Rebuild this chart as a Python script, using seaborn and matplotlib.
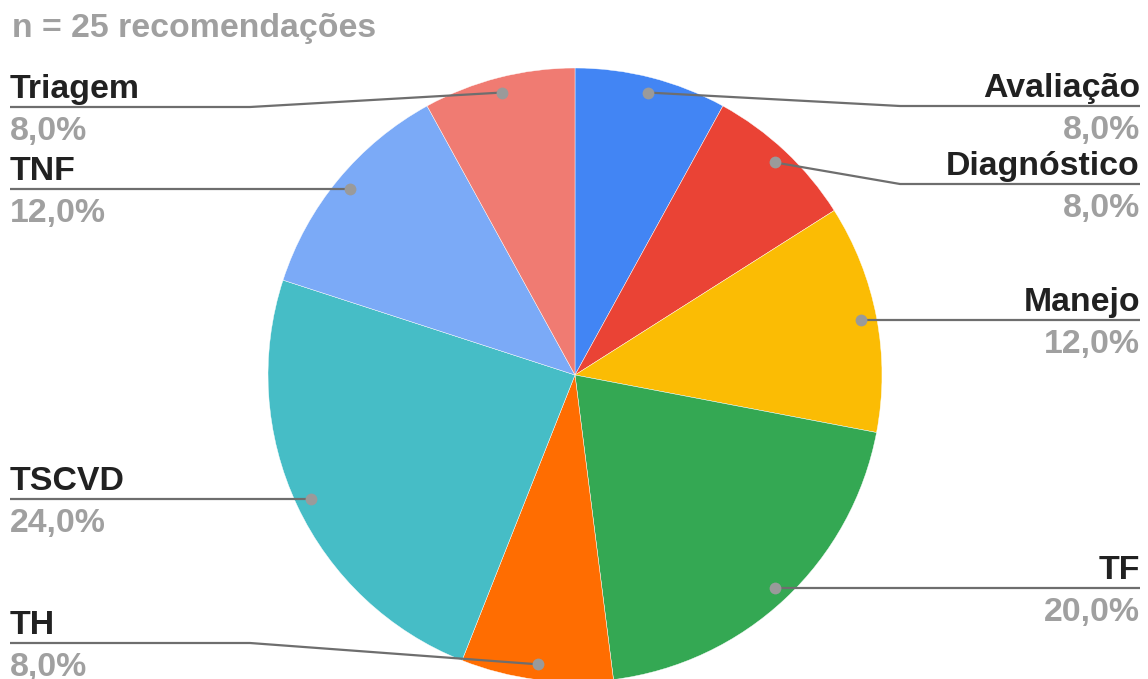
import numpy as np
import matplotlib
matplotlib.use("Agg")
import matplotlib.pyplot as plt
import seaborn as sns

# Data
categories = ["Avaliação", "Diagnóstico", "Manejo", "TF", "TH", "TSCVD", "TNF", "Triagem"]
shares = [8.0, 8.0, 12.0, 20.0, 8.0, 24.0, 12.0, 8.0]
title_text = "n = 25 recomendações"

slice_colors = ["#4285F4", "#EA4335", "#FBBC04", "#34A853",
                "#FF6D01", "#46BDC6", "#7BAAF7", "#F07B72"]

# Layout (pixel units, y measured from the top of the figure)
W, H = 1148, 679
pie_cx, pie_cy, pie_r = 575, 375, 307
label_line_y = {"Avaliação": 106, "Diagnóstico": 184, "Triagem": 107, "TH": 643}
right_x, left_x = 1140, 10
right_elbow, left_elbow = 900, 250

sns.set_theme(style="white")
plt.rcParams["font.family"] = ["Liberation Sans", "DejaVu Sans"]

fig = plt.figure(figsize=(W / 100, H / 100), dpi=100)
ax = fig.add_axes([0, 0, 1, 1])


def Y(ypx):
    return H - ypx


palette = sns.color_palette(slice_colors)
wedges, _ = ax.pie(shares, colors=palette, startangle=90, counterclock=False,
                   radius=pie_r, center=(pie_cx, Y(pie_cy)),
                   wedgeprops=dict(linewidth=0.3, edgecolor="white"))

ax.set_xlim(0, W)
ax.set_ylim(0, H)
ax.set_aspect("equal")
ax.axis("off")

line_col = "#6e6e6e"
dot_col = "#9a9a9a"
name_col = "#212121"
pct_col = "#a0a0a0"
fs = 24.4

for w, name, val in zip(wedges, categories, shares):
    mid = np.deg2rad((w.theta1 + w.theta2) / 2)
    dx = pie_cx + 0.95 * pie_r * np.cos(mid)
    dy = Y(pie_cy) + 0.95 * pie_r * np.sin(mid)
    right = np.cos(mid) > 0
    ly = Y(label_line_y[name]) if name in label_line_y else dy
    end_x = right_x if right else left_x
    if abs(ly - dy) > 1:
        elbow = right_elbow if right else left_elbow
        xs, ys = [dx, elbow, end_x], [dy, ly, ly]
    else:
        xs, ys = [dx, end_x], [dy, ly]
    ax.plot(xs, ys, color=line_col, lw=1.6, solid_capstyle="butt", zorder=3)
    ax.plot([dx], [dy], "o", color=dot_col, ms=8.5, mec="none", zorder=4)
    ha = "right" if right else "left"
    ax.text(end_x, ly + 9, name, ha=ha, va="baseline", fontsize=fs,
            fontweight="bold", color=name_col, zorder=5)
    ax.text(end_x, ly - 33, f"{val:.1f}%".replace(".", ","), ha=ha,
            va="baseline", fontsize=fs, fontweight="bold", color=pct_col, zorder=5)

ax.text(12, Y(37), title_text, ha="left", va="baseline", fontsize=fs,
        fontweight="bold", color=pct_col)

fig.savefig("out.png", dpi=100, facecolor="white")
